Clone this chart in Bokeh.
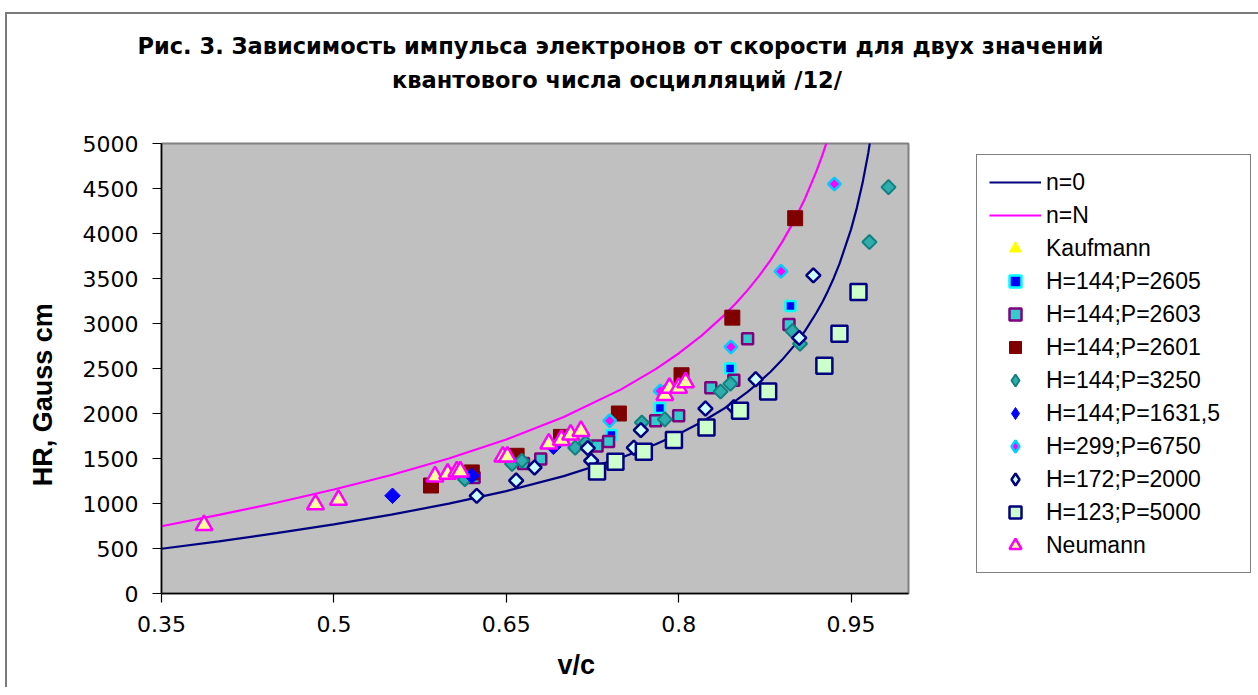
import math
from bokeh.plotting import figure
from bokeh.models import (Legend, LegendItem, Title, Range1d, FixedTicker)
from bokeh.embed import file_html
from bokeh.resources import INLINE

NAN = float("nan")

# ---------------- data ----------------
title_1 = "Рис. 3. Зависимость импульса электронов от скорости для двух значений"
title_2 = "квантового числа осцилляций /12/"
x_label = "v/c"
y_label = "HR, Gauss cm"

x_ticks = [0.35, 0.5, 0.65, 0.8, 0.95]
x_tick_labels = ["0.35", "0.5", "0.65", "0.8", "0.95"]
y_ticks = [0, 500, 1000, 1500, 2000, 2500, 3000, 3500, 4000, 4500, 5000]

# theoretical curves
vc_n0 = [0.35, 0.40, 0.45, 0.50, 0.55, 0.60, 0.65, 0.70, 0.75, 0.78, 0.80, 0.82,
         0.84, 0.85, 0.86, 0.87, 0.88, 0.89, 0.90, 0.91, 0.92, 0.925, 0.93,
         0.935, 0.94, 0.95, 0.955, 0.96, 0.965, 0.97]
hr_n0 = [497, 580, 670, 768, 876, 998, 1138, 1304, 1508, 1658, 1773, 1905,
         2059, 2146, 2241, 2347, 2464, 2596, 2746, 2919, 3122, 3237, 3365,
         3506, 3665, 4046, 4282, 4560, 4895, 5307]
vc_nN = [0.35, 0.40, 0.45, 0.50, 0.55, 0.60, 0.65, 0.70, 0.75, 0.78, 0.80, 0.82,
         0.84, 0.85, 0.86, 0.87, 0.88, 0.89, 0.90, 0.91, 0.92, 0.925, 0.93, 0.935]
hr_nN = [747, 873, 1008, 1155, 1317, 1500, 1711, 1960, 2268, 2493, 2667, 2865,
         3096, 3227, 3371, 3529, 3705, 3904, 4129, 4390, 4695, 4868, 5060, 5273]

# Kaufmann points cannot be made out in the picture (only the legend entry)
kaufmann_v = [NAN]
kaufmann_hr = [NAN]

p2605_v = [0.7415, 0.7837, 0.8448, 0.8973]
p2605_hr = [1760, 2060, 2500, 3195]

p2603_v = [0.622, 0.665, 0.680, 0.729, 0.739, 0.780, 0.800, 0.828, 0.848, 0.860, 0.896]
p2603_hr = [1290, 1445, 1495, 1640, 1690, 1920, 1975, 2285, 2370, 2830, 2990]

p2601_v = [0.5845, 0.620, 0.659, 0.6976, 0.748, 0.8025, 0.8467, 0.9014]
p2601_hr = [1200, 1345, 1530, 1740, 2000, 2425, 3065, 4170]

p3250_v = [0.614, 0.655, 0.6635, 0.710, 0.719, 0.768, 0.788, 0.8365, 0.845,
           0.899, 0.9056, 0.966, 0.9826]
p3250_hr = [1270, 1440, 1475, 1620, 1675, 1900, 1935, 2245, 2330, 2915, 2775,
            3905, 4515]

p1631_v = [0.551, 0.620, 0.691]
p1631_hr = [1086, 1308, 1630]

p6750_v = [0.740, 0.784, 0.8455, 0.889, 0.9355]
p6750_hr = [1920, 2250, 2740, 3580, 4550]

p2000_v = [0.6243, 0.6586, 0.6746, 0.7209, 0.7239, 0.761, 0.7671, 0.8233, 0.848,
           0.867, 0.9049, 0.9172]
p2000_hr = [1085, 1255, 1400, 1615, 1475, 1620, 1815, 2055, 2070, 2380, 2840, 3535]

p5000_v = [0.729, 0.745, 0.7697, 0.7959, 0.8242, 0.8534, 0.8779, 0.9268, 0.9399, 0.9565]
p5000_hr = [1355, 1465, 1575, 1705, 1845, 2030, 2245, 2530, 2885, 3350]

neumann_v = [0.387, 0.484, 0.504, 0.588, 0.599, 0.607, 0.610, 0.647, 0.651, 0.687,
             0.698, 0.706, 0.715, 0.788, 0.792, 0.800, 0.806]
neumann_hr = [760, 990, 1040, 1300, 1330, 1355, 1355, 1520, 1520, 1665, 1705,
              1765, 1805, 2205, 2285, 2285, 2345]

labels = ["n=0", "n=N", "Kaufmann", "H=144;P=2605", "H=144;P=2603", "H=144;P=2601",
          "H=144;P=3250", "H=144;P=1631,5", "H=299;P=6750", "H=172;P=2000",
          "H=123;P=5000", "Neumann"]

# ---------------- figure ----------------
NB = "\u00a0"
p = figure(frame_width=747, frame_height=450,
           min_border_left=154, min_border_right=341,
           min_border_top=129, min_border_bottom=94,
           x_range=Range1d(0.35, 1.0), y_range=Range1d(0, 5000),
           output_backend="svg", toolbar_location=None)
# chart-area border (top and left edges are visible in the picture)
p.margin = (12, 0, 0, 5)
p.styles = {"border-top": "2px solid #7a7a7a", "border-left": "2px solid #7a7a7a"}

p.background_fill_color = "#C0C0C0"
p.border_fill_color = "white"
p.outline_line_color = "#808080"
p.outline_line_width = 2
p.xgrid.visible = False
p.ygrid.visible = False

for ax in (p.xaxis[0], p.yaxis[0]):
    ax.axis_line_color = "black"
    ax.axis_line_width = 1.5
    ax.major_tick_line_color = "black"
    ax.major_tick_line_width = 1.2
    ax.major_tick_in = 0
    ax.major_tick_out = 9
    ax.minor_tick_line_color = None
    ax.major_label_text_font = "DejaVu Sans"
    ax.major_label_text_font_size = "22px"
    ax.major_label_text_color = "black"
    ax.axis_label_text_font = "Liberation Sans"
    ax.axis_label_text_font_style = "bold"
    ax.axis_label_text_font_size = "27px"
    ax.axis_label_text_color = "black"

p.xaxis.major_label_standoff = 13
p.yaxis.major_label_standoff = 14
p.xaxis.axis_label = NB * 11 + x_label
p.yaxis.axis_label = y_label + NB * 7
p.xaxis.axis_label_standoff = 15
p.yaxis.axis_label_standoff = 22

p.xaxis.ticker = FixedTicker(ticks=x_ticks)
p.xaxis.major_label_overrides = {t: s for t, s in zip(x_ticks, x_tick_labels)}
p.yaxis.ticker = FixedTicker(ticks=y_ticks)
p.yaxis.major_label_overrides = {t: str(t) for t in y_ticks}

DIAM = math.pi / 4

st_k = dict(fill_color="#FFFF00", line_color="#FFFF00")
st_2605 = dict(fill_color="#0000FF", line_color="#00FFFF", line_width=2.5)
st_2603 = dict(fill_color="#33CCCC", line_color="#800080", line_width=2.5)
st_2601 = dict(fill_color="#800000", line_color="#800000", line_width=1)
st_3250 = dict(fill_color="#2EADAD", line_color="#128080", line_width=2)
st_1631 = dict(fill_color="#0000FF", line_color="#0000FF", line_width=1)
st_6750 = dict(fill_color="#FF00FF", line_color="#00CCFF", line_width=2.5)
st_2000 = dict(fill_color="#CCFFFF", line_color="#000080", line_width=2.5)
st_5000 = dict(fill_color="#CCFFCC", line_color="#000080", line_width=2.5)
st_neu = dict(fill_color="#FFFF99", line_color="#FF00FF", line_width=2.5)

r_n0 = p.line(vc_n0, hr_n0, line_color="#000080", line_width=2.2)
r_nN = p.line(vc_nN, hr_nN, line_color="#FF00FF", line_width=2.2)
r_k = p.scatter(kaufmann_v, kaufmann_hr, marker="triangle", size=7, **st_k)
r_2605 = p.scatter(p2605_v, p2605_hr, marker="square", size=10, **st_2605)
r_2603 = p.scatter(p2603_v, p2603_hr, marker="square", size=11, **st_2603)
r_2601 = p.scatter(p2601_v, p2601_hr, marker="square", size=15, **st_2601)
r_3250 = p.scatter(p3250_v, p3250_hr, marker="square", angle=DIAM, size=10, **st_3250)
r_1631 = p.scatter(p1631_v, p1631_hr, marker="square", angle=DIAM, size=11, **st_1631)
r_6750 = p.scatter(p6750_v, p6750_hr, marker="square", angle=DIAM, size=9, **st_6750)
r_2000 = p.scatter(p2000_v, p2000_hr, marker="square", angle=DIAM, size=10, **st_2000)
r_5000 = p.scatter(p5000_v, p5000_hr, marker="square", size=16, **st_5000)
r_neu = p.scatter(neumann_v, neumann_hr, marker="triangle", size=17, **st_neu)

# legend swatches for the diamond series (legend cannot draw rotated squares)
lg_3250 = p.scatter([NAN], [NAN], marker="diamond", size=10, **st_3250)
lg_1631 = p.scatter([NAN], [NAN], marker="diamond", size=10, **st_1631)
lg_6750 = p.scatter([NAN], [NAN], marker="diamond", size=10, **st_6750)
lg_2000 = p.scatter([NAN], [NAN], marker="diamond", size=10, **st_2000)

legend_renderers = [r_n0, r_nN, r_k, r_2605, r_2603, r_2601, lg_3250, lg_1631,
                    lg_6750, lg_2000, r_5000, r_neu]

items = [LegendItem(label=l, renderers=[r]) for l, r in zip(labels, legend_renderers)]
legend = Legend(items=items, location=(68, 20), padding=12, spacing=3, margin=0,
                glyph_width=52, glyph_height=30, label_height=30, label_width=192,
                label_standoff=5, border_line_color="black", border_line_width=1.5,
                background_fill_color="white", background_fill_alpha=1,
                label_text_font="Liberation Sans", label_text_font_size="23px",
                label_text_color="black")
p.add_layout(legend, "right")

# two-line title (added nearest-first, with a spacer next to the plot)
tfont = dict(text_font="DejaVu Sans", text_font_style="bold",
             text_font_size="22.5px", text_color="black")
spacer = Title(text=NB, align="left", standoff=20, **tfont)
t2 = Title(text=title_2, align="left", offset=230.5, standoff=6, **tfont)
t1 = Title(text=title_1, align="left", offset=-24, standoff=6, **tfont)
p.add_layout(spacer, "above")
p.add_layout(t2, "above")
p.add_layout(t1, "above")

open("out.html", "w").write(file_html(p, INLINE))
